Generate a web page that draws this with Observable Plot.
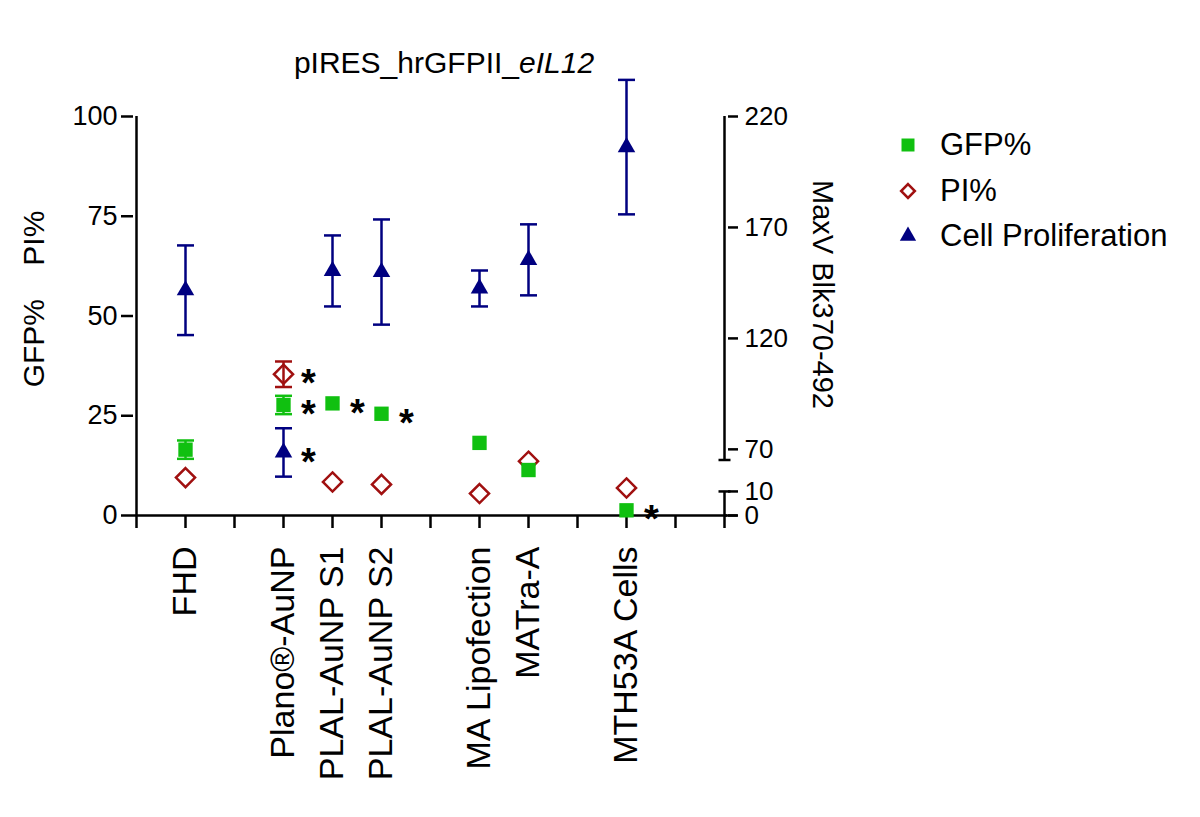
<!DOCTYPE html>
<html>
<head>
<meta charset="utf-8">
<script src="https://cdn.jsdelivr.net/npm/d3@7"></script>
<script src="https://cdn.jsdelivr.net/npm/@observablehq/plot@0.6"></script>
<style>
  body { margin: 0; background: #fff; font-family: "Liberation Sans", Arial, sans-serif; }
  #wrap { position: relative; width: 1200px; height: 817px; overflow: hidden; }
  #chart { position: absolute; left: 0; top: 0; }
  #title { position: absolute; left: 0; width: 888px; top: 45px; text-align: center; font-size: 30px; line-height: 36px; color: #000; }
  .lg { position: absolute; left: 890px; height: 40px; display: flex; align-items: center; font-size: 31px; color: #000; }
  .lg span { margin-left: 14px; white-space: nowrap; }
</style>
</head>
<body>
<div id="wrap">
  <div id="chart"></div>
  <div id="title">pIRES_hrGFPII_<i>eIL12</i></div>
</div>
<script>
// ---------- data ----------
const categories = ["FHD", "Plano®-AuNP", "PLAL-AuNP S1", "PLAL-AuNP S2", "MA Lipofection", "MATra-A", "MTH53A Cells"];
// x slots of the category axis (empty slots are gaps between groups)
const slots = ["_0", "FHD", "_2", "Plano®-AuNP", "PLAL-AuNP S1", "PLAL-AuNP S2", "_6", "MA Lipofection", "MATra-A", "_9", "MTH53A Cells", "_11", "_12"];

const gfp      = [16.5, 27.7, 28.1, 25.5, 18.2, 11.4, 1.3];
const gfpErr   = [2.3, 2.3, 0, 0, 0, 0, 0];
const pi       = [9.5, 35.4, 8.4, 7.8, 5.5, 13.6, 6.9];
const piErr    = [0, 3.2, 0, 0, 0, 0, 0];
const prolif    = [141.7, 68.6, 150.4, 149.9, 142.5, 155.4, 206.2];   // MaxV Blk370-492 (right axis)
const prolifErr = [20.2, 10.9, 16.0, 23.7, 8.1, 16.0, 30.3];

const leftTicks  = [0, 25, 50, 75, 100];
const rightTicks = [0, 10, 70, 120, 170, 220];
const rightLowerSegment = [0, 10];
const rightUpperSegment = [65.2, 220];

const starred = [
  ["Plano®-AuNP", "PI"], ["Plano®-AuNP", "GFP"], ["Plano®-AuNP", "Prolif"],
  ["PLAL-AuNP S1", "GFP"], ["PLAL-AuNP S2", "GFP"], ["MTH53A Cells", "GFP"]
];

const seriesNames = ["GFP%", "PI%", "Cell Proliferation"];

// ---------- broken right axis -> left axis units ----------
const LOWER_FACTOR = 6.03 / 10;           // 0..10 occupies 0..6.03 of left scale
const UPPER_BASE = 16.58;                 // right value 70 sits at left 16.58
const UPPER_FACTOR = (100 - UPPER_BASE) / (220 - 70);
function rightToLeft(v) {
  return v <= 40 ? v * LOWER_FACTOR : UPPER_BASE + (v - 70) * UPPER_FACTOR;
}

// ---------- tables ----------
const GREEN = "#10c010", RED = "#a01010", NAVY = "#000080";
const rows = categories.map((c, i) => ({
  cat: c,
  gfp: gfp[i], gfpErr: gfpErr[i],
  pi: pi[i], piErr: piErr[i],
  prolif: rightToLeft(prolif[i]),
  prolifLo: rightToLeft(prolif[i] - prolifErr[i]),
  prolifHi: rightToLeft(prolif[i] + prolifErr[i])
}));
const gfpE = rows.filter(d => d.gfpErr > 0);
const piE = rows.filter(d => d.piErr > 0);

const stars = starred.map(([c, s]) => {
  const r = rows.find(d => d.cat === c);
  return {cat: c, y: s === "GFP" ? r.gfp : s === "PI" ? r.pi : r.prolif};
});

const rightLabel = new Map(rightTicks.map(t => [rightToLeft(t), String(t)]));

// custom line symbols (error-bar caps, axis break caps)
const capSym = w => ({draw(ctx) { ctx.moveTo(-w, 0); ctx.lineTo(w, 0); }});
const extSym = {draw(ctx) { ctx.moveTo(0, 0); ctx.lineTo(13, 0); }};

const SW = 2.5;
const errMarks = (data, lo, hi, color) => [
  Plot.ruleX(data, {x: "cat", y1: lo, y2: hi, stroke: color, strokeWidth: SW}),
  Plot.dot(data, {x: "cat", y: lo, r: 4, symbol: capSym(8.5), stroke: color, fill: "none", strokeWidth: SW}),
  Plot.dot(data, {x: "cat", y: hi, r: 4, symbol: capSym(8.5), stroke: color, fill: "none", strokeWidth: SW})
];

const chart = Plot.plot({
  width: 1200, height: 817,
  marginLeft: 133, marginRight: 473, marginTop: 116, marginBottom: 302,
  x: {type: "point", domain: slots, padding: 0},
  y: {domain: [0, 100]},
  style: {fontFamily: "'Liberation Sans', Arial, sans-serif", fontSize: "27px", color: "#000", background: "transparent", overflow: "visible"},
  marks: [
    // axis lines
    Plot.ruleY([0], {stroke: "#000", strokeWidth: SW}),
    Plot.dot([0], {x: () => "_12", y: 0, r: 4, symbol: extSym, stroke: "#000", fill: "none", strokeWidth: SW}),
    Plot.ruleX([0], {x: () => "_0", y1: 0, y2: 100, stroke: "#000", strokeWidth: SW}),
    Plot.ruleX([rightLowerSegment], {x: () => "_12", y1: d => rightToLeft(d[0]), y2: d => rightToLeft(d[1]), stroke: "#000", strokeWidth: SW}),
    Plot.ruleX([rightUpperSegment], {x: () => "_12", y1: d => rightToLeft(d[0]), y2: d => rightToLeft(d[1]), stroke: "#000", strokeWidth: SW}),
    Plot.dot([rightUpperSegment[0], rightLowerSegment[1]], {x: () => "_12", y: d => rightToLeft(d), r: 4, symbol: capSym(6), stroke: "#000", fill: "none", strokeWidth: SW}),
    // axes
    Plot.axisX({ticks: slots, tickSize: 13, tickFormat: () => "", strokeWidth: SW, label: null}),
    Plot.axisY({anchor: "left", ticks: leftTicks, tickSize: 12, tickPadding: 4, fontSize: 27, strokeWidth: SW, label: null}),
    Plot.axisY({anchor: "right", ticks: rightTicks.map(rightToLeft), tickFormat: v => rightLabel.get(v), tickSize: 10, tickPadding: 7, fontSize: 26, strokeWidth: SW, label: null}),
    // category labels
    Plot.text(categories, {x: d => d, frameAnchor: "bottom", rotate: -90, textAnchor: "end", lineAnchor: "middle", dy: 31, fontSize: 34}),
    // axis titles
    Plot.text(["GFP%\u00a0\u00a0\u00a0\u00a0PI%"], {frameAnchor: "left", rotate: -90, textAnchor: "middle", lineAnchor: "middle", dx: -99, dy: -17, fontSize: 30}),
    Plot.text(["MaxV Blk370-492"], {frameAnchor: "right", rotate: 90, textAnchor: "middle", lineAnchor: "middle", dx: 95, dy: -21.5, fontSize: 29}),
    // error bars
    ...errMarks(rows, "prolifLo", "prolifHi", NAVY),
    ...errMarks(piE, d => d.pi - d.piErr, d => d.pi + d.piErr, RED),
    ...errMarks(gfpE, d => d.gfp - d.gfpErr, d => d.gfp + d.gfpErr, GREEN),
    // points
    Plot.dot(rows, {x: "cat", y: "pi", symbol: "diamond2", r: 8.6, stroke: RED, fill: "none", strokeWidth: SW}),
    Plot.dot(rows, {x: "cat", y: "gfp", symbol: "square", r: 8.1, fill: GREEN, stroke: "none"}),
    Plot.dot(rows, {x: "cat", y: "prolif", symbol: "triangle", r: 6.5, fill: NAVY, stroke: "none"}),
    // significance asterisks
    Plot.text(stars, {x: "cat", y: "y", text: () => "*", dx: 25, dy: 10, lineAnchor: "middle", textAnchor: "middle", fontSize: 38, fontWeight: "bold", fill: "#000"})
  ]
});
document.getElementById("chart").appendChild(chart);

// ---------- legend ----------
const legendSyms = [
  {type: d3.symbolSquare, size: 169, fill: GREEN, stroke: "none", sw: 0},
  {type: d3.symbolDiamond2, size: 120, fill: "none", stroke: RED, sw: 2.5},
  {type: d3.symbolTriangle, size: 115, fill: NAVY, stroke: "none", sw: 0}
];
const legendCenters = [145, 191, 236];
const wrap = document.getElementById("wrap");
seriesNames.forEach((name, i) => {
  const s = legendSyms[i];
  const div = document.createElement("div");
  div.className = "lg";
  div.style.top = (legendCenters[i] - 20) + "px";
  const path = d3.symbol(s.type, s.size)();
  div.innerHTML = `<svg width="36" height="40" viewBox="-18 -20 36 40"><path d="${path}" fill="${s.fill}" stroke="${s.stroke}" stroke-width="${s.sw}"/></svg><span>${name}</span>`;
  wrap.appendChild(div);
});
</script>
</body>
</html>
